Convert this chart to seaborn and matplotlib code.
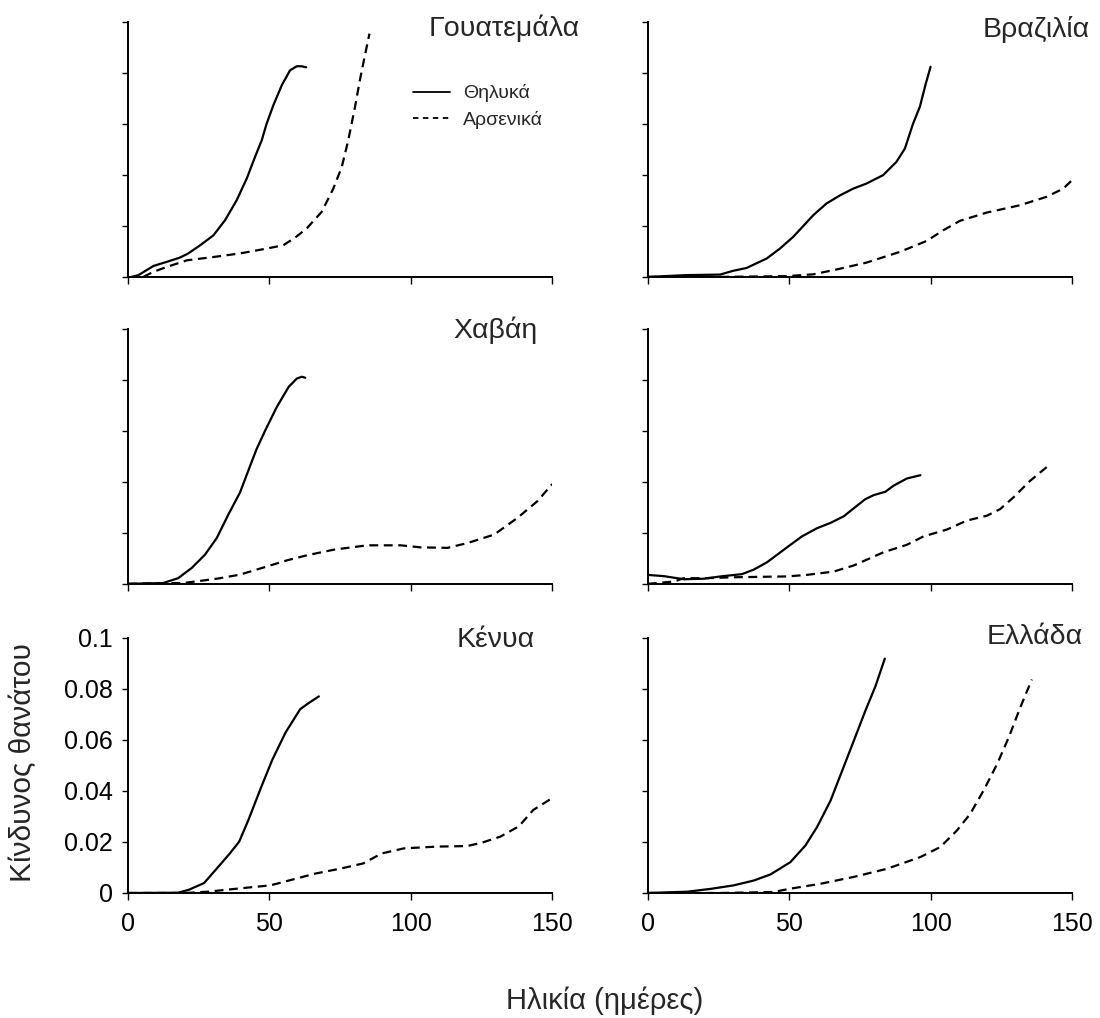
import numpy as np
import pandas as pd
import matplotlib
matplotlib.use("Agg")
import matplotlib.pyplot as plt
from matplotlib.lines import Line2D
import seaborn as sns

# series (age in days, hazard of death)
guatemala_f_age = [1.3, 3.7, 9, 13.7, 18.4, 21.3, 25.5, 30.2, 34.3, 38.4, 42, 44.9, 47.3, 49, 51.4, 54.4, 57.3, 59.7, 61.4, 63]
guatemala_f_haz = [0, 0.0007, 0.0043, 0.0059, 0.0076, 0.0092, 0.0124, 0.0163, 0.0222, 0.030, 0.0386, 0.047, 0.0536, 0.060, 0.0673, 0.0752, 0.081, 0.0826, 0.0826, 0.0822]
guatemala_m_age = [5.4, 9, 13.7, 20.8, 30.2, 39.6, 49, 54.9, 59.1, 63.2, 68.5, 72.6, 75.6, 77.9, 80.3, 82, 83.8, 85.4]
guatemala_m_haz = [0, 0.002, 0.0039, 0.0065, 0.0078, 0.0092, 0.0111, 0.0124, 0.0154, 0.019, 0.0255, 0.0346, 0.0431, 0.0536, 0.0667, 0.0771, 0.0869, 0.0954]

brazil_f_age = [0, 7.8, 13.7, 25.5, 30.2, 34.9, 42, 46.7, 51.4, 58.5, 63.2, 68, 72.6, 77.3, 83.2, 87.9, 90.9, 93.8, 96.2, 98.3, 100]
brazil_f_haz = [0, 0.0004, 0.0007, 0.0009, 0.0024, 0.0035, 0.0072, 0.0111, 0.0157, 0.0242, 0.0288, 0.032, 0.0346, 0.0366, 0.0399, 0.0451, 0.0503, 0.0601, 0.0667, 0.0758, 0.0824]
brazil_m_age = [0, 25.5, 49, 58.5, 66.7, 77.3, 89.1, 98.6, 104.5, 110.4, 119.8, 131.6, 141, 146.9, 150]
brazil_m_haz = [0, 0, 0.0003, 0.001, 0.0029, 0.0056, 0.0098, 0.0141, 0.0183, 0.022, 0.0252, 0.0281, 0.0314, 0.0346, 0.0379]

havana_f_age = [0, 12.4, 17.7, 22.5, 27.2, 31.4, 35.5, 39.6, 43.2, 45.5, 48.5, 52.6, 56.8, 59.7, 61.5, 62.7]
havana_f_haz = [0, 0.0003, 0.0022, 0.0062, 0.0114, 0.018, 0.0272, 0.0358, 0.0463, 0.0529, 0.0601, 0.0693, 0.0772, 0.0805, 0.0812, 0.0808]
havana_m_age = [0, 13.6, 19.5, 31.4, 39.6, 49.1, 56.2, 63.3, 72.8, 84.6, 96.4, 103.5, 113, 120.1, 129.5, 137.8, 144.9, 150]
havana_m_haz = [0, 0.0003, 0.0003, 0.002, 0.0036, 0.0068, 0.0092, 0.0112, 0.0134, 0.0151, 0.0151, 0.0143, 0.0141, 0.016, 0.0193, 0.0259, 0.0325, 0.0391]

untitled_f_age = [0, 5.7, 12.7, 19.8, 25.7, 33.3, 37.5, 42.2, 49.2, 54.5, 59.8, 64.6, 69.3, 72.8, 76.9, 79.9, 84, 86.9, 91.6, 96.4]
untitled_f_haz = [0.0035, 0.003, 0.0018, 0.002, 0.0029, 0.0038, 0.0056, 0.0085, 0.0143, 0.0186, 0.0218, 0.0239, 0.0265, 0.0296, 0.0332, 0.0348, 0.0361, 0.0385, 0.0413, 0.0426]
untitled_m_age = [0, 9.2, 12.7, 19.8, 31.6, 49.2, 56.2, 65.7, 72.8, 83.4, 91.6, 97.5, 105.8, 112.8, 119.9, 124.6, 129.3, 135.2, 142.3]
untitled_m_haz = [0, 0.0009, 0.0022, 0.0022, 0.0026, 0.0029, 0.0035, 0.0048, 0.0072, 0.0124, 0.0153, 0.0186, 0.0213, 0.0248, 0.0267, 0.0293, 0.0339, 0.0404, 0.0469]

kenya_f_age = [0, 17.7, 21.6, 26.9, 31.4, 36, 39.3, 42.6, 47.2, 51.1, 55.7, 60.9, 64.2, 67.5]
kenya_f_haz = [0, 0.0001, 0.0013, 0.0039, 0.0096, 0.0155, 0.0201, 0.0287, 0.0418, 0.0524, 0.0629, 0.0721, 0.0747, 0.0771]
kenya_m_age = [0, 20.3, 28.2, 38.6, 50.4, 58.3, 66.2, 75.3, 83.2, 89.7, 97.6, 109.4, 119.9, 125.1, 131.7, 138.2, 143.4, 150]
kenya_m_haz = [0, 0, 0.0005, 0.0017, 0.003, 0.0053, 0.0076, 0.0096, 0.0116, 0.0155, 0.0175, 0.0182, 0.0184, 0.0197, 0.0221, 0.0261, 0.0326, 0.0372]

greece_f_age = [0, 13.9, 22.1, 30.4, 37.5, 43.4, 50.4, 55.7, 59.8, 64.6, 68.7, 72.8, 76.9, 80.5, 83.8]
greece_f_haz = [0, 0.0005, 0.0016, 0.003, 0.0049, 0.0073, 0.0121, 0.0186, 0.0258, 0.0362, 0.0479, 0.0596, 0.0714, 0.0811, 0.0919]
greece_m_age = [0, 25.7, 44.5, 50.4, 61, 72.8, 84.6, 96.4, 103.4, 109.3, 114, 118.7, 123.5, 127.6, 131.7, 135.8]
greece_m_haz = [0, 0, 0.0004, 0.0017, 0.0036, 0.0063, 0.0095, 0.0141, 0.018, 0.0245, 0.031, 0.0401, 0.0505, 0.0609, 0.0727, 0.0837]

female, male = "Θηλυκά", "Αρσενικά"
x_ticks = [0, 50, 100, 150]
y_ticks = [0, 0.02, 0.04, 0.06, 0.08, 0.1]
y_tick_labels = ["0", "0.02", "0.04", "0.06", "0.08", "0.1"]

panels = [
    ("Γουατεμάλα", guatemala_f_age, guatemala_f_haz, guatemala_m_age, guatemala_m_haz),
    ("Βραζιλία", brazil_f_age, brazil_f_haz, brazil_m_age, brazil_m_haz),
    ("Χαβάη", havana_f_age, havana_f_haz, havana_m_age, havana_m_haz),
    ("", untitled_f_age, untitled_f_haz, untitled_m_age, untitled_m_haz),
    ("Κένυα", kenya_f_age, kenya_f_haz, kenya_m_age, kenya_m_haz),
    ("Ελλάδα", greece_f_age, greece_f_haz, greece_m_age, greece_m_haz),
]

sns.set_style("ticks")
plt.rcParams["font.family"] = ["Liberation Sans", "DejaVu Sans"]

fig = plt.figure(figsize=(11, 10.18), dpi=100)

# axes boxes in figure fractions, row by row
lefts = [0.1164, 0.589]
bottoms = [0.728, 0.4265, 0.1228]
title_pos = [(1.066, 0.976), (1.042, 0.969), (0.965, 0.996), (1.0, 1.0), (0.96, 0.992), (1.026, 1.004)]
dash_map = {female: "", male: (4, 2.5)}

for i, (name, fx, fy, mx, my) in enumerate(panels):
    row, col = divmod(i, 2)
    ax = fig.add_axes([lefts[col], bottoms[row], 0.3855, 0.2505])
    df = pd.DataFrame({
        "age": list(fx) + list(mx),
        "hazard": list(fy) + list(my),
        "sex": [female] * len(fx) + [male] * len(mx),
    })
    sns.lineplot(data=df, x="age", y="hazard", style="sex", style_order=[female, male],
                 dashes=dash_map, color="black", linewidth=1.6, estimator=None,
                 sort=False, legend=False, ax=ax)
    ax.set_xlim(0, 150)
    ax.set_ylim(0, 0.1)
    ax.set_xticks(x_ticks)
    ax.set_yticks(y_ticks)
    ax.set_xlabel("")
    ax.set_ylabel("")
    if row == 2:
        ax.set_xticklabels([str(t) for t in x_ticks])
        if col == 0:
            ax.set_yticklabels(y_tick_labels)
        else:
            ax.set_yticklabels([])
    else:
        ax.set_xticklabels([])
        ax.set_yticklabels([])
    ax.tick_params(axis="x", direction="out", length=5, width=1, labelsize=18, pad=9, colors="black")
    ax.tick_params(axis="y", direction="out", length=4, width=1, labelsize=18, pad=7, colors="black")
    for s in ["left", "bottom"]:
        ax.spines[s].set_linewidth(1.4)
        ax.spines[s].set_color("black")
    sns.despine(ax=ax)
    if name:
        tx, ty = title_pos[i]
        ax.text(tx, ty, name, transform=ax.transAxes, ha="right", va="center",
                fontsize=20.5, clip_on=False)
    if i == 0:
        handles = [Line2D([], [], color="black", linewidth=1.3),
                   Line2D([], [], color="black", linewidth=1.3, dashes=(3, 2.5))]
        ax.legend(handles, [female, male], loc="center left", bbox_to_anchor=(0.672, 0.667),
                  frameon=False, fontsize=14, handlelength=1.9, handletextpad=0.67,
                  labelspacing=0.45, borderpad=0, borderaxespad=0)

fig.text(23 / 1100, 1 - 763 / 1018, "Κίνδυνος θανάτου", rotation=90,
         ha="center", va="center", fontsize=21.5)
fig.text(605 / 1100, 1 - 1001 / 1018, "Ηλικία (ημέρες)", ha="center", va="center", fontsize=21)

fig.savefig("out.png", dpi=100, facecolor="white")
